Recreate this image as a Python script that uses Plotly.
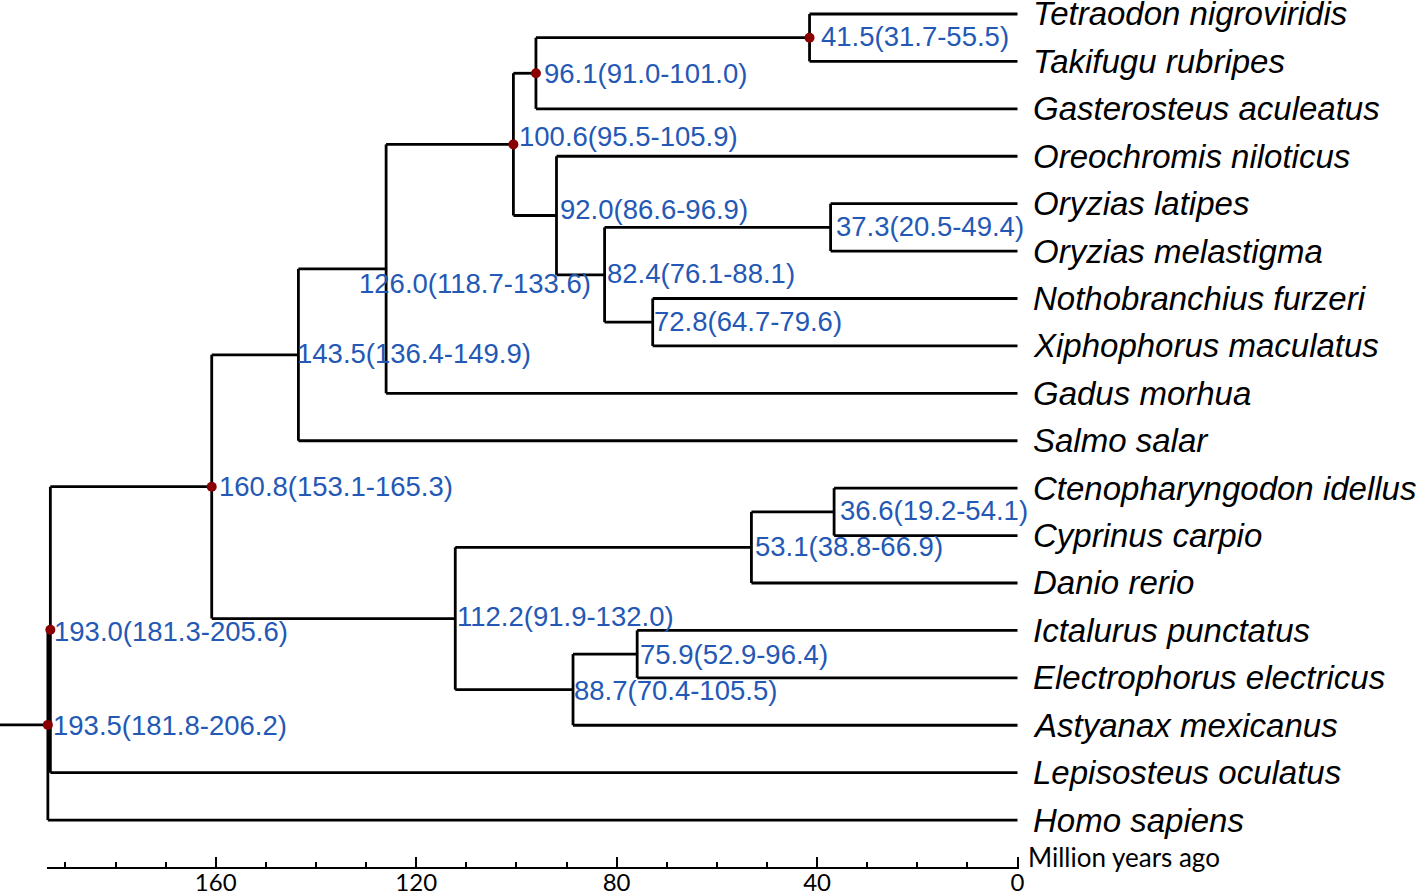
import plotly.graph_objects as go

# ---------------- data ----------------
species = [
    "Tetraodon nigroviridis", "Takifugu rubripes", "Gasterosteus aculeatus",
    "Oreochromis niloticus", "Oryzias latipes", "Oryzias melastigma",
    "Nothobranchius furzeri", "Xiphophorus maculatus", "Gadus morhua",
    "Salmo salar", "Ctenopharyngodon idellus", "Cyprinus carpio",
    "Danio rerio", "Ictalurus punctatus", "Electrophorus electricus",
    "Astyanax mexicanus", "Lepisosteus oculatus", "Homo sapiens",
]

# internal nodes (children listed before parents)
node_names = ["N1", "N2", "N3", "N4", "N5", "N6", "N7", "N8", "N9",
              "N10", "N11", "N12", "N13", "N14", "N15", "N16", "N17"]
node_age = [41.5, 96.1, 37.3, 72.8, 82.4, 92.0, 100.6, 126.0, 143.5,
            36.6, 53.1, 75.9, 88.7, 112.2, 160.8, 193.0, 193.5]
node_ci_low = [31.7, 91.0, 20.5, 64.7, 76.1, 86.6, 95.5, 118.7, 136.4,
               19.2, 38.8, 52.9, 70.4, 91.9, 153.1, 181.3, 181.8]
node_ci_high = [55.5, 101.0, 49.4, 79.6, 88.1, 96.9, 105.9, 133.6, 149.9,
                54.1, 66.9, 96.4, 105.5, 132.0, 165.3, 205.6, 206.2]
node_children = [
    ["Tetraodon nigroviridis", "Takifugu rubripes"],
    ["N1", "Gasterosteus aculeatus"],
    ["Oryzias latipes", "Oryzias melastigma"],
    ["Nothobranchius furzeri", "Xiphophorus maculatus"],
    ["N3", "N4"],
    ["Oreochromis niloticus", "N5"],
    ["N2", "N6"],
    ["N7", "Gadus morhua"],
    ["N8", "Salmo salar"],
    ["Ctenopharyngodon idellus", "Cyprinus carpio"],
    ["N10", "Danio rerio"],
    ["Ictalurus punctatus", "Electrophorus electricus"],
    ["N12", "Astyanax mexicanus"],
    ["N11", "N13"],
    ["N9", "N14"],
    ["N15", "Lepisosteus oculatus"],
    ["N16", "Homo sapiens"],
]
node_calibrated = [True, True, False, False, False, False, True, False, False,
                   False, False, False, False, False, True, True, True]

axis_tick_values = [160, 120, 80, 40, 0]
axis_title = "Million years ago"

# ---------------- layout constants ----------------
W, H = 1418, 895
X_LEFT, X_RIGHT = 203.05, -79.92        # age range across the figure width
Y_TOP, Y_BOTTOM = -0.295, 18.58         # leaf-index range across the figure height
STEM_START = 203.05
LINE_W = 2.8
BLUE = "#2458B5"
DOT = "#8B0000"

# per-label pixel offsets (dx, dy_down)
label_offsets = {
    "N1": (9, -1), "N2": (6, 0), "N7": (4, -8), "N6": (2, -6), "N3": (3, -1),
    "N5": (0, -1), "N4": (-1, -1), "N8": (-29, 15), "N9": (-3, -1),
    "N15": (5, 0), "N10": (4, -1), "N11": (2, -1), "N14": (0, -2),
    "N12": (1, 0), "N13": (-1, 1), "N16": (2, 2), "N17": (3, 1),
}

# ---------------- compute positions ----------------
pos = {}
for i, s in enumerate(species):
    pos[s] = (0.0, float(i))
for name, age, kids in zip(node_names, node_age, node_children):
    ys = [pos[k][1] for k in kids]
    pos[name] = (age, (min(ys) + max(ys)) / 2.0)

lx, ly = [], []
for name, kids in zip(node_names, node_children):
    a, y = pos[name]
    ys = [pos[k][1] for k in kids]
    lx += [a, a, None]
    ly += [min(ys), max(ys), None]
    for k in kids:
        ka, ky = pos[k]
        lx += [a, ka, None]
        ly += [ky, ky, None]
root = node_names[-1]
lx += [STEM_START, pos[root][0], None]
ly += [pos[root][1], pos[root][1], None]

fig = go.Figure()
fig.add_trace(go.Scatter(x=lx, y=ly, mode="lines",
                         line=dict(color="black", width=LINE_W),
                         hoverinfo="skip", showlegend=False))

dx = [pos[n][0] for n, c in zip(node_names, node_calibrated) if c]
dy = [pos[n][1] for n, c in zip(node_names, node_calibrated) if c]
fig.add_trace(go.Scatter(x=dx, y=dy, mode="markers",
                         marker=dict(color=DOT, size=10),
                         hoverinfo="skip", showlegend=False, cliponaxis=False))

# dummy trace for the time scale axis
fig.add_trace(go.Scatter(x=[0, 190], y=[None, None], xaxis="x2", yaxis="y",
                         mode="markers", showlegend=False, hoverinfo="skip"))

annotations = []
for s in species:
    a, y = pos[s]
    annotations.append(dict(x=a, y=y, xref="x", yref="y", text=s,
                            showarrow=False, xanchor="left", yanchor="middle",
                            xshift=13,
                            font=dict(family="Liberation Sans, Arial", size=33,
                                      color="black", style="italic")))
for name, age, lo, hi in zip(node_names, node_age, node_ci_low, node_ci_high):
    a, y = pos[name]
    ox, oy = label_offsets.get(name, (3, 0))
    annotations.append(dict(x=a, y=y, xref="x", yref="y",
                            text=f"{age:.1f}({lo:.1f}-{hi:.1f})",
                            showarrow=False, xanchor="left", yanchor="middle",
                            xshift=ox, yshift=-oy,
                            font=dict(family="Liberation Sans, Arial", size=27.5,
                                      color=BLUE)))

def frac(age):
    return (X_LEFT - age) / (X_LEFT - X_RIGHT)

AXIS_Y_PX = 868
axis_pos = 1 - AXIS_Y_PX / H
annotations.append(dict(x=0, y=axis_pos, xref="x", yref="paper", text=axis_title,
                        showarrow=False, xanchor="left", yanchor="bottom",
                        xshift=8, yshift=-7,
                        font=dict(family="Lato, Carlito", size=26, color="black")))

fig.update_layout(
    width=W, height=H,
    margin=dict(l=0, r=0, t=0, b=0),
    paper_bgcolor="white", plot_bgcolor="rgba(0,0,0,0)",
    template="none",
    showlegend=False,
    xaxis=dict(range=[X_LEFT, X_RIGHT], visible=False, domain=[0, 1]),
    yaxis=dict(range=[Y_BOTTOM, Y_TOP], visible=False, domain=[0, 1]),
    xaxis2=dict(range=[193.6, -0.3], domain=[frac(193.6), frac(-0.3)],
                anchor="free", position=axis_pos,
                showline=True, linecolor="black", linewidth=1.6,
                showgrid=False, zeroline=False,
                tickmode="array", tickvals=axis_tick_values,
                ticks="inside", ticklen=10, tickwidth=1.5, tickcolor="black",
                ticklabelstandoff=-7,
                minor=dict(dtick=10, tick0=0, ticks="inside", ticklen=5,
                           tickwidth=1.5, tickcolor="black", showgrid=False),
                tickfont=dict(family="Lato, Carlito", size=24, color="black")),
    annotations=annotations,
)

fig.write_html("out.html", config={"displayModeBar": False},
               post_script="document.body.style.margin='0';document.body.style.overflow='hidden';")
